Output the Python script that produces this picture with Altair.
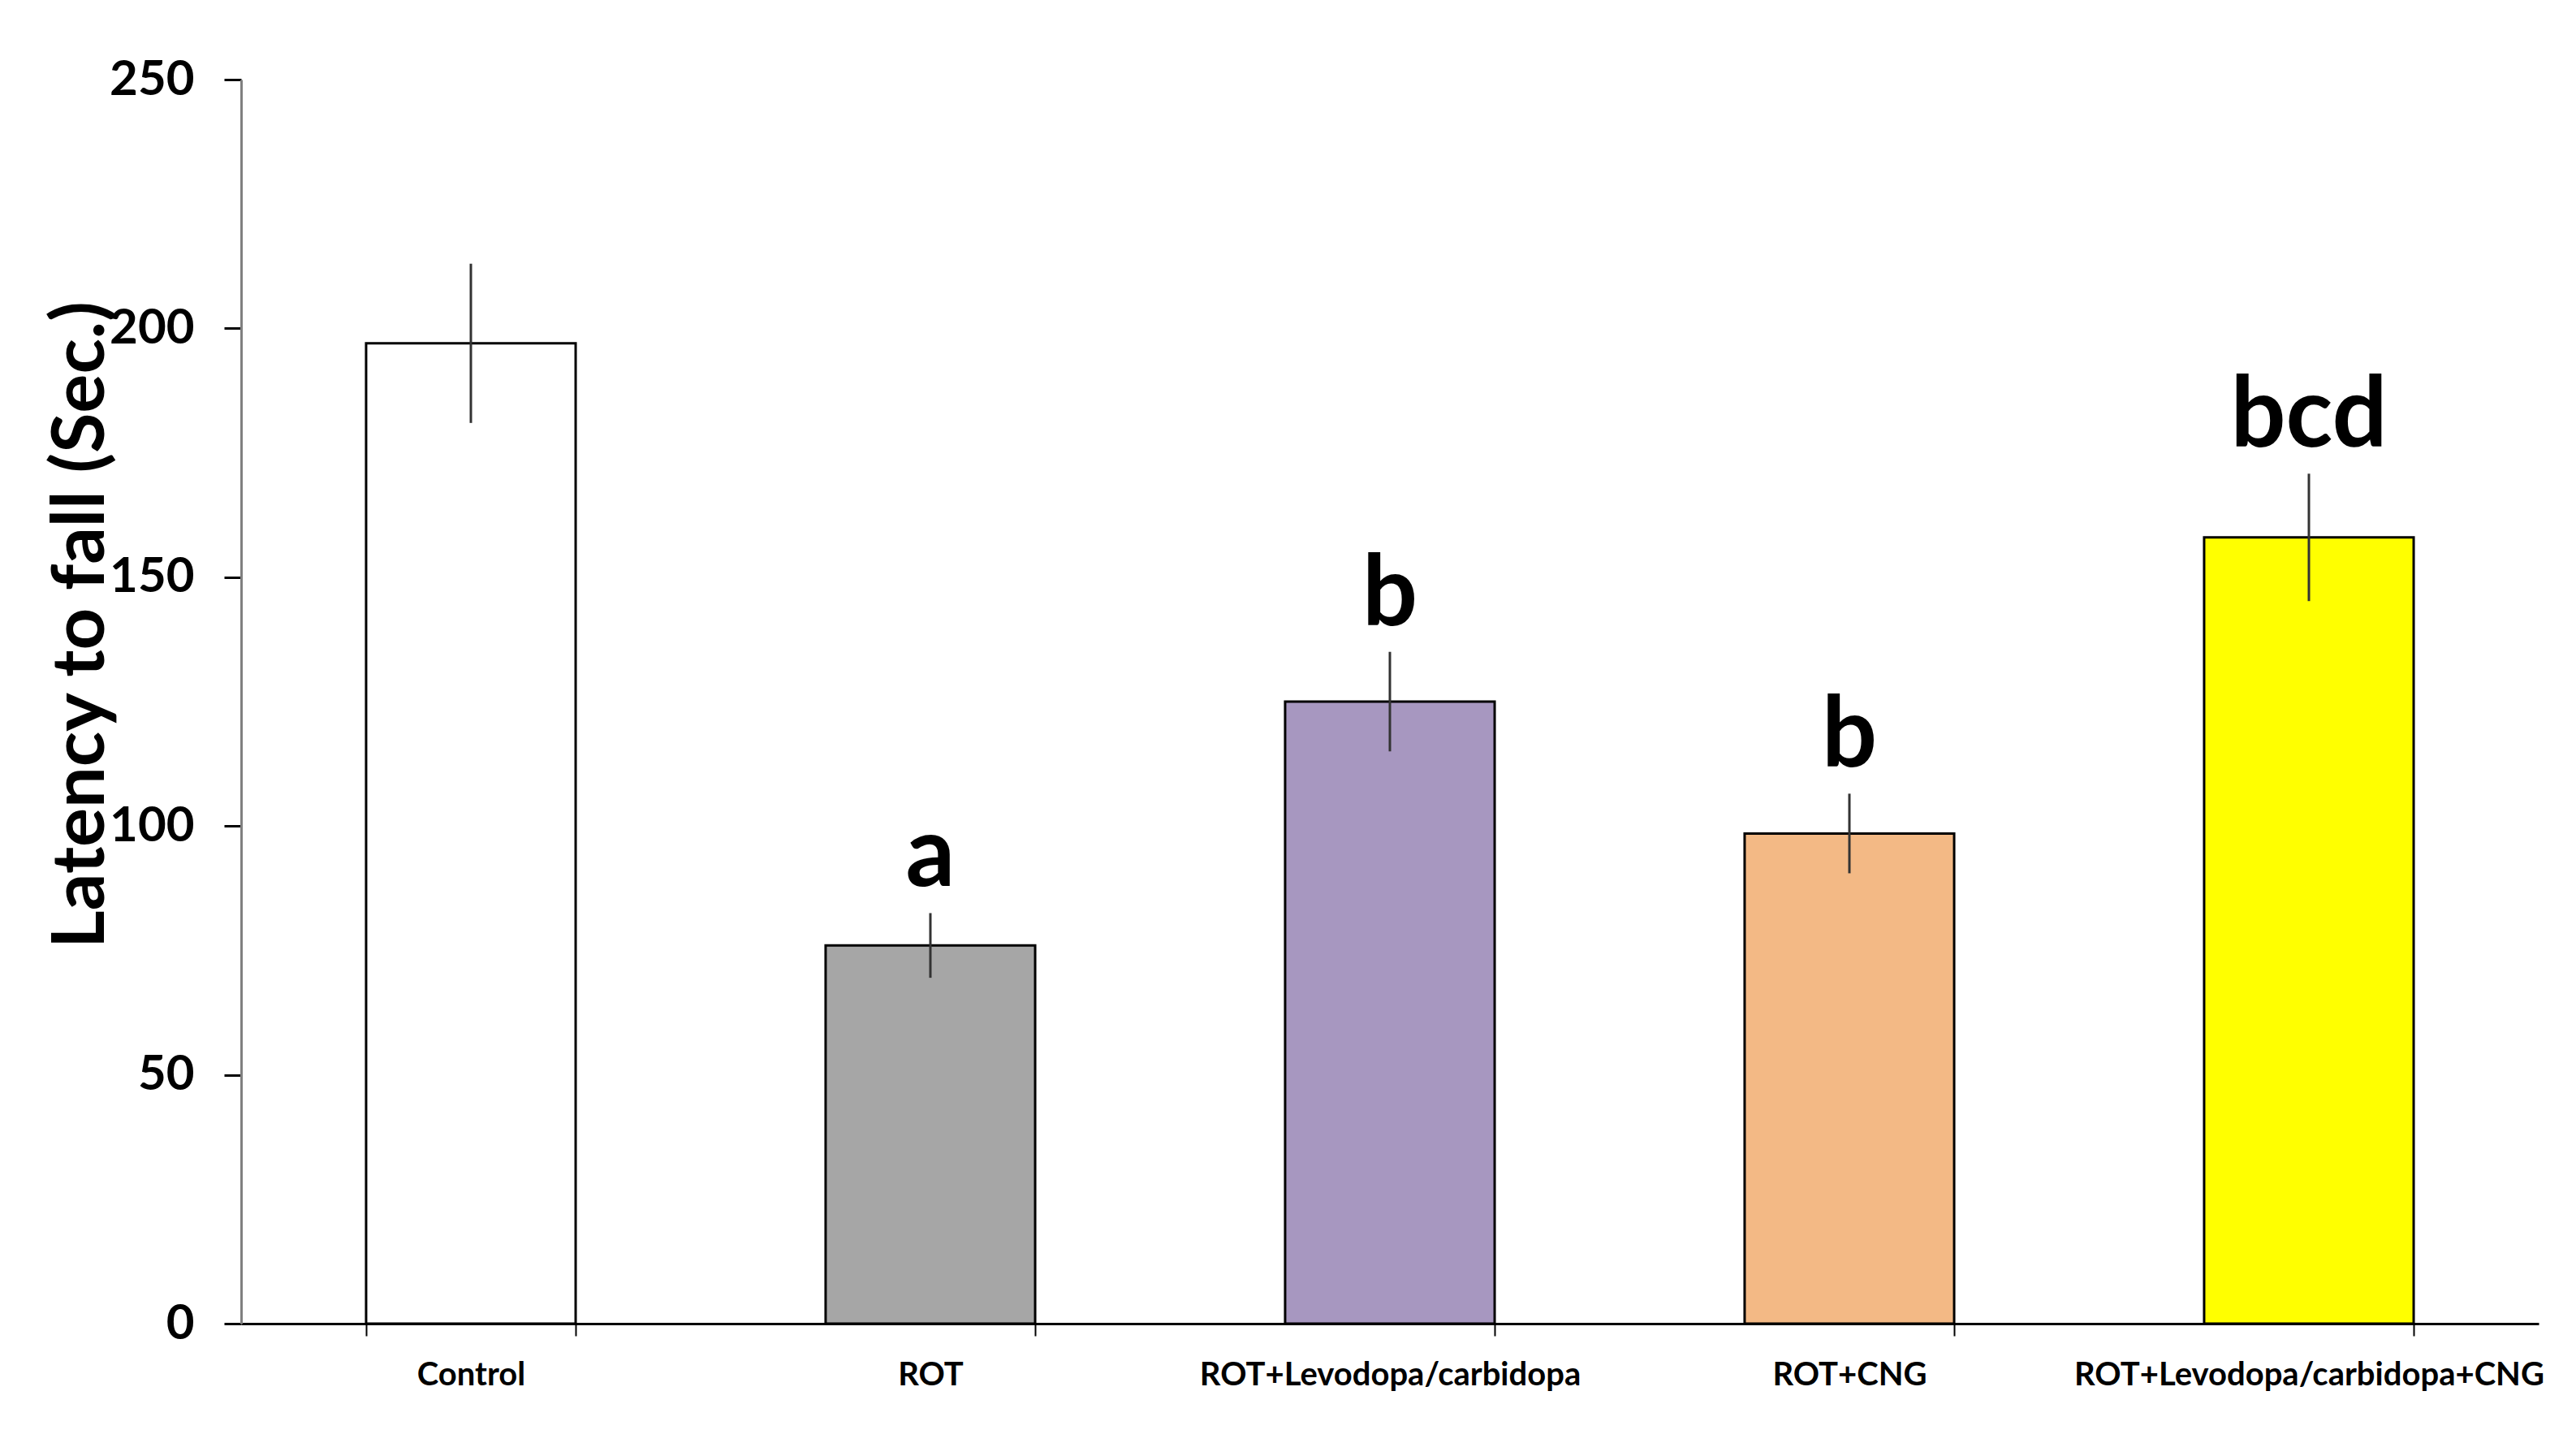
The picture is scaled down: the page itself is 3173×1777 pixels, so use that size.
import altair as alt
import pandas as pd

groups = ["Control", "ROT", "ROT+Levodopa/carbidopa", "ROT+CNG", "ROT+Levodopa/carbidopa+CNG"]
means = [197, 76, 125, 98.5, 158]
sems = [16, 6.5, 10, 8, 12.8]
letters = ["", "a", "b", "b", "bcd"]
colors = ["#FFFFFF", "#A6A6A6", "#A797C0", "#F3B985", "#FFFF00"]
y_ticks = [0, 50, 100, 150, 200, 250]

df = pd.DataFrame({
    "group": groups,
    "mean": means,
    "sem": sems,
    "letter": letters,
})
df["lower"] = df["mean"] - df["sem"]
df["upper"] = df["mean"] + df["sem"]

FONT = "Lato"

x_enc = alt.X(
    "group:N",
    sort=groups,
    scale=alt.Scale(paddingInner=0.544, paddingOuter=0.272),
    axis=alt.Axis(
        title=None,
        labelAngle=0,
        labelLimit=0,
        tickBand="extent",
        domainColor="black",
        domainWidth=3,
        tickColor="black",
        tickWidth=2,
        tickSize=15,
        labelFont=FONT,
        labelFontWeight="bold",
        labelFontSize=40,
        labelColor="black",
        labelPadding=28,
    ),
)

y_scale = alt.Scale(domain=[0, 250], nice=False)
y_axis = alt.Axis(
    title="Latency to fall (Sec.)",
    values=y_ticks,
    grid=False,
    domainColor="#808080",
    domainWidth=3,
    tickColor="black",
    tickWidth=3,
    tickSize=21,
    labelFont=FONT,
    labelFontWeight="bold",
    labelFontSize=60,
    labelColor="black",
    labelPadding=37,
    titleFont=FONT,
    titleFontWeight="bold",
    titleFontSize=90,
    titleColor="black",
    titleAngle=270,
    titleX=-170,
    titleY=671,
    titleAlign="center",
    titleBaseline="alphabetic",
)

base = alt.Chart(df).encode(x=x_enc)

bars = base.mark_bar(stroke="black", strokeWidth=3).encode(
    y=alt.Y("mean:Q", scale=y_scale, axis=y_axis),
    color=alt.Color("group:N", scale=alt.Scale(domain=groups, range=colors), legend=None),
)

errs = base.mark_rule(color="#333333", strokeWidth=3).encode(
    y=alt.Y("lower:Q", scale=y_scale, axis=y_axis),
    y2="upper:Q",
)

labels = base.mark_text(
    font=FONT, fontWeight="bold", fontSize=120, color="black",
    baseline="alphabetic", align="center", dy=-33,
).encode(
    y=alt.Y("upper:Q", scale=y_scale, axis=y_axis),
    text="letter:N",
)

chart = alt.layer(bars, errs, labels).properties(
    width=2830,
    height=1532,
    autosize=alt.AutoSizeParams(type="none"),
    padding={"left": 289, "top": 90, "right": 38, "bottom": 139},
    background="white",
).configure_view(stroke=None)

chart.save("out.html", embed_options={"renderer": "svg", "actions": False})
